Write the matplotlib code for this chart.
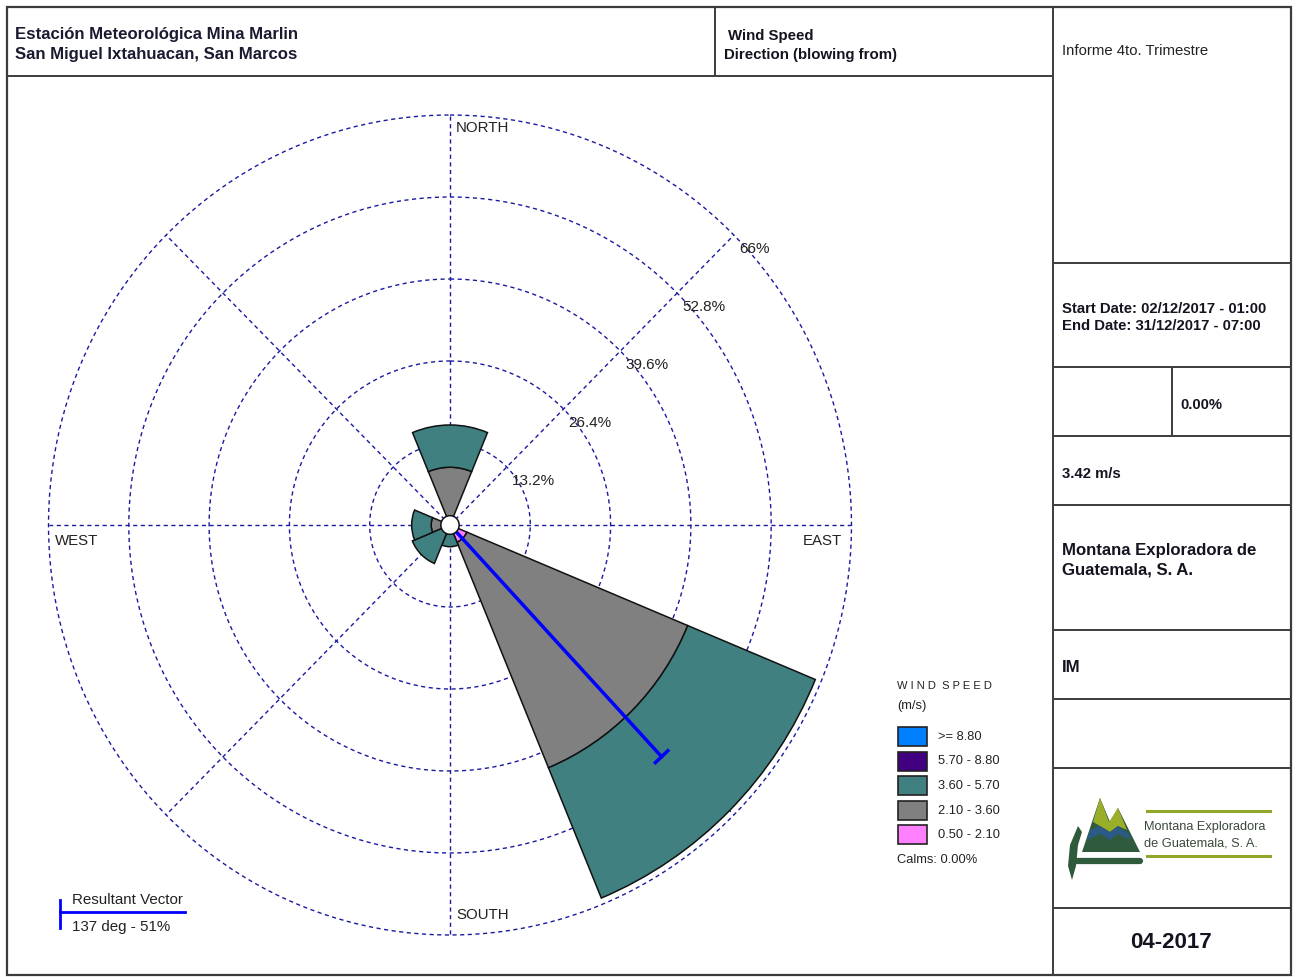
import numpy as np
import matplotlib
matplotlib.use("Agg")
import matplotlib.pyplot as plt
from matplotlib.patches import Rectangle, Polygon

plt.rcParams['font.family'] = ['Liberation Sans', 'DejaVu Sans']

# wind rose data (percent of time, 8 sectors, direction blowing from)
directions = ['N', 'NE', 'E', 'SE', 'S', 'SW', 'W', 'NW']
dir_deg = [0, 45, 90, 135, 180, 225, 270, 315]
speed_bins = ['0.50 - 2.10', '2.10 - 3.60', '3.60 - 5.70', '5.70 - 8.80', '>= 8.80']
bin_colors = ['#ff80ff', '#808080', '#408080', '#400080', '#0080ff']
pct_050_210 = [0.0, 0.0, 0.0, 3.0, 0.0, 0.0, 0.0, 0.0]
pct_210_360 = [9.3, 0.0, 0.0, 39.3, 1.2, 1.3, 3.1, 0.0]
pct_360_570 = [6.8, 0.0, 0.0, 22.7, 2.3, 5.4, 3.2, 0.0]
pct_570_880 = [0.0, 0.0, 0.0, 0.0, 0.0, 0.0, 0.0, 0.0]
pct_ge_880 = [0.0, 0.0, 0.0, 0.0, 0.0, 0.0, 0.0, 0.0]
ring_values = [13.2, 26.4, 39.6, 52.8, 66.0]
ring_labels = ['13.2%', '26.4%', '39.6%', '52.8%', '66%']
calm_pct = 1.5
resultant_deg = 137
resultant_pct = 51

W, H = 1296, 977
fig = plt.figure(figsize=(W / 100, H / 100), dpi=100)

# background axes in pixel coords for the frame and texts
bg = fig.add_axes([0, 0, 1, 1])
bg.set_xlim(0, W)
bg.set_ylim(H, 0)
bg.axis('off')

lc = '#3c3c3c'
def hline(y, x0, x1):
    bg.plot([x0, x1], [y, y], color=lc, lw=1.4, solid_capstyle='butt')
def vline(x, y0, y1):
    bg.plot([x, x], [y0, y1], color=lc, lw=1.4, solid_capstyle='butt')

bg.add_patch(Rectangle((7, 7), 1284, 968, fill=False, edgecolor=lc, lw=1.6))
hline(76, 7, 1053)
vline(715, 7, 76)
vline(1053, 7, 975)
for y in [263, 367, 436, 505, 630, 699, 768, 908]:
    hline(y, 1053, 1291)
vline(1172, 367, 436)

txt = '#141420'
# header texts
bg.text(15, 35, 'Estación Meteorológica Mina Marlin', fontsize=12.1, fontweight='bold',
        color='#1a1a30', va='center')
bg.text(15, 54, 'San Miguel Ixtahuacan, San Marcos', fontsize=12.1, fontweight='bold',
        color='#1a1a30', va='center')
bg.text(728, 36, 'Wind Speed', fontsize=10.8, fontweight='bold', color=txt, va='center')
bg.text(724, 55, 'Direction (blowing from)', fontsize=10.8, fontweight='bold', color=txt, va='center')

bg.text(1062, 51, 'Informe 4to. Trimestre', fontsize=10.7, color='#222', va='center')
bg.text(1062, 309, 'Start Date: 02/12/2017 - 01:00', fontsize=10.7, fontweight='bold', color=txt, va='center')
bg.text(1062, 326, 'End Date: 31/12/2017 - 07:00', fontsize=10.7, fontweight='bold', color=txt, va='center')
bg.text(1180, 405, '0.00%', fontsize=10.7, fontweight='bold', color=txt, va='center')
bg.text(1062, 474, '3.42 m/s', fontsize=10.7, fontweight='bold', color=txt, va='center')
bg.text(1062, 551, 'Montana Exploradora de', fontsize=12.1, fontweight='bold', color=txt, va='center')
bg.text(1062, 570, 'Guatemala, S. A.', fontsize=12.1, fontweight='bold', color=txt, va='center')
bg.text(1062, 667, 'IM', fontsize=12.1, fontweight='bold', color=txt, va='center')
bg.text(1171, 942, '04-2017', fontsize=16, fontweight='bold', color=txt, va='center', ha='center')

# logo
bg.add_patch(Polygon([[1082, 852], [1100, 798], [1110, 822], [1118, 808], [1140, 852]],
                     closed=True, facecolor='#2f5a3c', edgecolor='none'))
bg.add_patch(Polygon([[1093, 822], [1100, 798], [1109, 822], [1118, 808], [1127, 830],
                      [1118, 826], [1110, 832], [1100, 826]],
                     closed=True, facecolor='#9aae2a', edgecolor='none'))
bg.add_patch(Polygon([[1090, 830], [1100, 826], [1110, 832], [1118, 826], [1129, 834],
                      [1131, 840], [1118, 834], [1110, 840], [1100, 834], [1087, 840]],
                     closed=True, facecolor='#2b5a86', edgecolor='none'))
bg.plot([1076, 1140], [861, 861], color='#2f5a3c', lw=4.5, solid_capstyle='round')
bg.add_patch(Polygon([[1078, 826], [1070, 845], [1068, 866], [1072, 880], [1076, 866],
                      [1078, 845], [1082, 832]],
                     closed=True, facecolor='#2f5a3c', edgecolor='none'))
bg.plot([1147, 1270], [811, 811], color='#8fa82a', lw=2.2)
bg.plot([1147, 1270], [856, 856], color='#8fa82a', lw=2.2)
bg.text(1144, 827, 'Montana Exploradora', fontsize=9.2, color='#3a4a3a', va='center',
        family=['Liberation Sans Narrow', 'Liberation Sans'])
bg.text(1144, 844, 'de Guatemala, S. A.', fontsize=9.2, color='#3a4a3a', va='center',
        family=['Liberation Sans Narrow', 'Liberation Sans'])

# compass labels
bg.text(456, 128, 'NORTH', fontsize=10.8, color='#222', va='center')
bg.text(456, 915, 'SOUTH', fontsize=10.8, color='#222', va='center')
bg.text(55, 541, 'WEST', fontsize=10.8, color='#222', va='center')
bg.text(842, 541, 'EAST', fontsize=10.8, color='#222', va='center', ha='right')

# legend
bg.text(897, 686, 'W I N D  S P E E D', fontsize=8.0, color='#222', va='center')
bg.text(897, 706, '(m/s)', fontsize=9.3, color='#222', va='center')
for i in range(len(speed_bins)):
    k = len(speed_bins) - 1 - i
    y = 727 + i * 24.5
    bg.add_patch(Rectangle((898, y), 29, 19, facecolor=bin_colors[k], edgecolor='#222', lw=1.2))
    bg.text(938, y + 10, speed_bins[k], fontsize=9.3, color='#222', va='center')
bg.text(897, 860, 'Calms: 0.00%', fontsize=9.3, color='#222', va='center')

# resultant vector legend
bg.plot([60, 185], [912, 912], color='#0000ff', lw=2)
bg.plot([60, 60], [900, 928], color='#0000ff', lw=2)
bg.text(72, 900, 'Resultant Vector', fontsize=10.9, color='#222', va='center')
bg.text(72, 927, '137 deg - 51%', fontsize=10.9, color='#222', va='center')

# polar wind rose
rmax = 66.0
rlim = 67.0
cx, cy, rx, ry = 450, 525, 401.5 * rlim / rmax, 410 * rlim / rmax
ax = fig.add_axes([(cx - rx) / W, (H - cy - ry) / H, 2 * rx / W, 2 * ry / H], projection='polar')
ax.set_aspect('auto')
ax.set_theta_zero_location('N')
ax.set_theta_direction(-1)
ax.set_ylim(0, rlim)
ax.patch.set_alpha(0)
ax.spines['polar'].set_visible(False)
ax.set_xticks([])
ax.set_yticks([])
ax.grid(False)

gc = '#1a1aa0'
dash = (0, (3, 2.5))
tt = np.linspace(0, 2 * np.pi, 400)
for rv in ring_values:
    ax.plot(tt, np.full(tt.size, rv), color=gc, lw=1.0, linestyle=dash, zorder=1)
for d in dir_deg:
    ax.plot([np.radians(d)] * 2, [0, rmax], color=gc, lw=1.0, linestyle=dash, zorder=1)

theta = np.radians(dir_deg)
width = np.radians(45)
bottom = np.zeros(len(dir_deg))
for vals, col in zip([pct_050_210, pct_210_360, pct_360_570, pct_570_880, pct_ge_880], bin_colors):
    vals = np.array(vals)
    m = vals > 0
    if m.any():
        ax.bar(theta[m], vals[m], width=width, bottom=bottom[m], color=col,
               edgecolor='#111', lw=1.1, zorder=3)
    bottom = bottom + vals

# resultant vector with end tick
th = np.radians(resultant_deg)
ax.plot([th, th], [0, resultant_pct], color='#0000ff', lw=2.5, zorder=4)
px, py = resultant_pct * np.sin(th), resultant_pct * np.cos(th)
dx, dy = np.cos(th) * 1.4, -np.sin(th) * 1.4
tx = np.array([px - dx, px + dx])
ty = np.array([py - dy, py + dy])
ax.plot(np.arctan2(tx, ty), np.hypot(tx, ty), color='#0000ff', lw=2.5, zorder=4)

# calm circle
ax.fill(tt, np.full(tt.size, calm_pct), facecolor='white', edgecolor='#111', lw=1.1, zorder=5)

# ring labels along the NE spoke
for rv, lab in zip(ring_values, ring_labels):
    ax.annotate(lab, xy=(np.radians(45), rv), xytext=(5, -14), textcoords='offset pixels',
                fontsize=11, color='#222', va='center', ha='left', zorder=6)

fig.savefig('out.png', dpi=100)
